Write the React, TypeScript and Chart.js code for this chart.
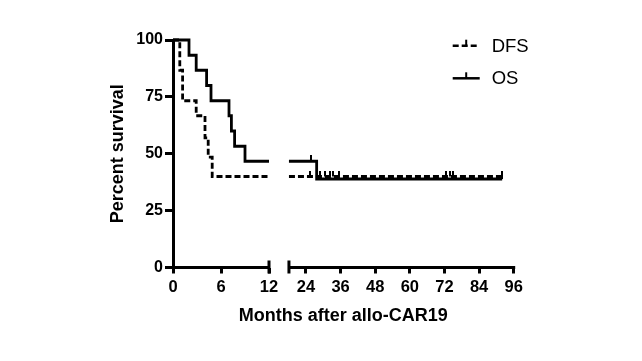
import React, { useEffect, useRef } from "react";
import { Chart, registerables } from "chart.js";

Chart.register(...registerables);

// ---- Data ----
const SEG1_TICKS = [0, 6, 12];
const SEG2_TICKS = [24, 36, 48, 60, 72, 84, 96];
const Y_TICKS = [0, 25, 50, 75, 100];

// axis break (months)
const SEG1_END = 12;
const SEG2_START = 18.1;
const SEG1_SCALE_MAX = 13.25;
const SEG2_SCALE_MIN = 14.65;
const SEG2_SCALE_MAX = 96;

// DFS (dashed) step curve
const DFS_T1 = [0, 0.85, 1.2, 2.9, 4.0, 4.4, 4.9, 12];
const DFS_S1 = [100, 86.7, 73.3, 66.7, 57, 48.5, 40, 40];
const DFS_T2 = [18.1, 92];
const DFS_S2 = [40, 40];
const DFS_CENSOR_T = [25.4, 29, 30.5, 32.3, 33.3, 35.4, 72.7, 73.8, 75, 92];
const DFS_CENSOR_S = [40, 40, 40, 40, 40, 40, 40, 40, 40, 40];

// OS (solid) step curve
const OS_T1 = [0, 2.0, 2.9, 4.2, 4.75, 7.0, 7.3, 7.7, 9.0, 12];
const OS_S1 = [100, 93.3, 86.7, 80, 73.3, 66.7, 60, 53.3, 46.7, 46.7];
const OS_T2 = [18.1, 27.7, 92];
const OS_S2 = [46.7, 38.9, 38.9];
const OS_CENSOR_T = [25.6, 92];
const OS_CENSOR_S = [46.7, 38.9];

const LEGEND_LABELS = ["DFS", "OS"];
const X_TITLE = "Months after allo-CAR19";
const Y_TITLE = "Percent survival";

const FONT = "'Liberation Sans', Arial, Helvetica, sans-serif";

const pts = (t: number[], s: number[]) => t.map((x, i) => ({ x, y: s[i] }));

function makeCensorImage(): HTMLCanvasElement {
  const c = document.createElement("canvas");
  c.width = 2;
  c.height = 12;
  const g = c.getContext("2d")!;
  g.fillStyle = "#000";
  g.fillRect(0, 0, 2, 6);
  return c;
}

const brokenAxisPlugin = {
  id: "brokenAxis",
  afterDraw(chart: any) {
    const { ctx, chartArea } = chart;
    const x1 = chart.scales.x1;
    const x2 = chart.scales.x2;
    const yb = chartArea.bottom;
    ctx.save();
    ctx.strokeStyle = "#000";
    ctx.lineWidth = 3;
    ctx.lineCap = "butt";
    ctx.beginPath();
    ctx.moveTo(x1.getPixelForValue(0) - 1.5, yb);
    ctx.lineTo(x1.getPixelForValue(SEG1_END) + 1.5, yb);
    ctx.moveTo(x2.getPixelForValue(SEG2_START) - 1.5, yb);
    ctx.lineTo(x2.getPixelForValue(SEG2_SCALE_MAX) + 1.5, yb);
    const caps = [x1.getPixelForValue(SEG1_END), x2.getPixelForValue(SEG2_START)];
    for (const px of caps) {
      ctx.moveTo(px, yb - 7);
      ctx.lineTo(px, yb + 6);
    }
    ctx.stroke();
    ctx.restore();
  },
};

const legendPlugin = {
  id: "kmLegend",
  afterDraw(chart: any) {
    const { ctx, chartArea } = chart;
    const x0 = chartArea.right - 61;
    const x1 = chartArea.right - 34;
    const tx = chartArea.right - 22;
    LEGEND_LABELS.forEach((label, i) => {
      const y = chartArea.top + 5.7 + i * 32.6;
      ctx.save();
      ctx.strokeStyle = "#000";
      ctx.lineWidth = 2.5;
      ctx.setLineDash(i === 0 ? [6, 3] : []);
      ctx.beginPath();
      ctx.moveTo(x0, y);
      ctx.lineTo(x1, y);
      ctx.stroke();
      ctx.setLineDash([]);
      ctx.lineWidth = 2;
      ctx.beginPath();
      const mx = (x0 + x1) / 2;
      ctx.moveTo(mx, y);
      ctx.lineTo(mx, y - 6);
      ctx.stroke();
      ctx.fillStyle = "#000";
      ctx.font = `18.5px ${FONT}`;
      ctx.textAlign = "left";
      ctx.textBaseline = "alphabetic";
      ctx.fillText(label, tx, y + 5.8);
      ctx.restore();
    });
  },
};

export default function App() {
  const ref = useRef<HTMLCanvasElement | null>(null);

  useEffect(() => {
    if (!ref.current) return;
    const censorImg = makeCensorImage();
    const lineBase = {
      type: "line" as const,
      stepped: "before" as const,
      borderColor: "#000",
      borderWidth: 2.8,
      pointRadius: 0,
      fill: false,
      clip: false as any,
      yAxisID: "y",
    };
    const xTickFont = { family: FONT, size: 16.5, weight: "bold" as const };
    const yTickFont = { family: FONT, size: 16, weight: "bold" as const };
    const xCommon = {
      type: "linear" as const,
      position: "bottom" as const,
      stack: "x",
      border: { display: false },
      grid: { drawOnChartArea: false, drawTicks: true, tickLength: 6, color: "#000", lineWidth: 3 },
      ticks: { padding: 4, font: xTickFont, color: "#000", maxRotation: 0, autoSkip: false },
      afterFit: (s: any) => {
        s.height = 30;
      },
    };

    const chart = new Chart(ref.current, {
      type: "line",
      data: {
        datasets: [
          { ...lineBase, label: "OS", data: pts(OS_T1, OS_S1), xAxisID: "x1" },
          { ...lineBase, label: "OS2", data: pts(OS_T2, OS_S2), xAxisID: "x2" },
          { ...lineBase, label: "DFS", data: pts(DFS_T1, DFS_S1), xAxisID: "x1", borderDash: [6, 3] },
          { ...lineBase, label: "DFS2", data: pts(DFS_T2, DFS_S2), xAxisID: "x2", borderDash: [6, 3] },
          {
            type: "scatter",
            label: "DFS censored",
            data: pts(DFS_CENSOR_T, DFS_CENSOR_S),
            xAxisID: "x2",
            yAxisID: "y",
            pointStyle: censorImg as any,
            clip: false as any,
          },
          {
            type: "scatter",
            label: "OS censored",
            data: pts(OS_CENSOR_T, OS_CENSOR_S),
            xAxisID: "x2",
            yAxisID: "y",
            pointStyle: censorImg as any,
            clip: false as any,
          },
        ] as any,
      },
      options: {
        animation: false,
        responsive: true,
        maintainAspectRatio: false,
        layout: { padding: { left: 0, top: 40, right: 128.3, bottom: 0 } },
        events: [],
        scales: {
          x1: {
            ...xCommon,
            stackWeight: 106,
            min: 0,
            max: SEG1_SCALE_MAX,
            afterBuildTicks: (s: any) => {
              s.ticks = SEG1_TICKS.map((v) => ({ value: v }));
            },
          },
          x2: {
            ...xCommon,
            stackWeight: 234.7,
            min: SEG2_SCALE_MIN,
            max: SEG2_SCALE_MAX,
            afterBuildTicks: (s: any) => {
              s.ticks = SEG2_TICKS.map((v) => ({ value: v }));
            },
          },
          y: {
            type: "linear",
            position: "left",
            min: 0,
            max: 100,
            afterBuildTicks: (s: any) => {
              s.ticks = Y_TICKS.map((v) => ({ value: v }));
            },
            afterFit: (s: any) => {
              s.width = 173;
            },
            border: { display: true, color: "#000", width: 3 },
            grid: { drawOnChartArea: false, drawTicks: true, tickLength: 8, color: "#000", lineWidth: 3 },
            ticks: { padding: 2, font: yTickFont, color: "#000" },
            title: {
              display: true,
              text: Y_TITLE,
              color: "#000",
              font: { family: FONT, size: 18, weight: "bold" },
              padding: { top: 107.5, bottom: 0 },
            },
          },
        } as any,
        plugins: {
          legend: { display: false },
          tooltip: { enabled: false },
          title: {
            display: true,
            text: X_TITLE,
            position: "bottom",
            fullSize: false,
            color: "#000",
            font: { family: FONT, size: 18, weight: "bold" },
            padding: { top: 7.4, bottom: 34.5 },
          },
        } as any,
      },
      plugins: [brokenAxisPlugin, legendPlugin],
    });
    return () => chart.destroy();
  }, []);

  return (
    <div style={{ position: "absolute", left: 0, top: 0, width: 642, height: 361, background: "#fff" }}>
      <canvas ref={ref} />
    </div>
  );
}
